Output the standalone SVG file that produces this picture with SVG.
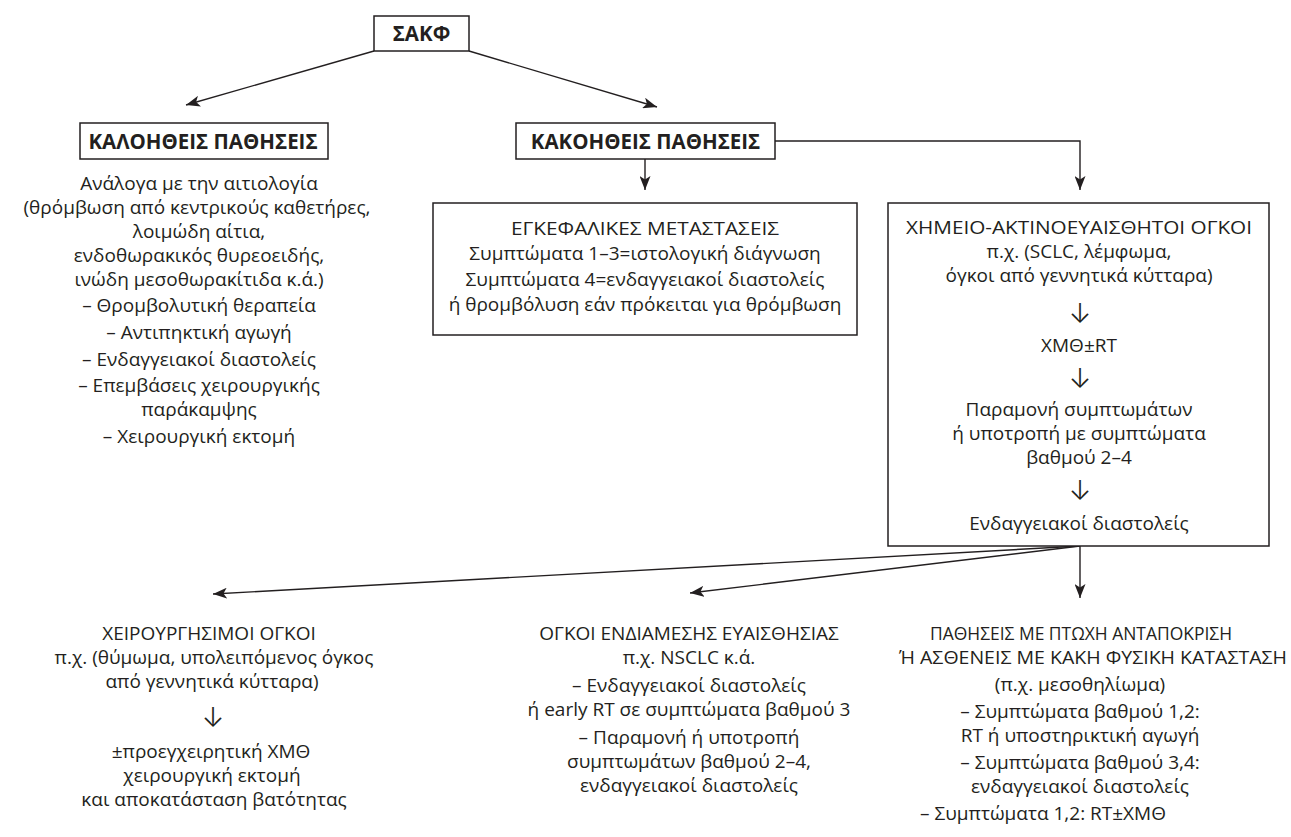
<svg xmlns="http://www.w3.org/2000/svg" width="1291" height="837" viewBox="0 0 1291 837">
<defs>
<style>
.t{font-family:"Open Sans","Noto Sans","DejaVu Sans",sans-serif;font-size:19px;fill:#231f20;text-anchor:middle}
.b{font-family:"Open Sans","Noto Sans","DejaVu Sans",sans-serif;font-size:20.5px;font-weight:bold;fill:#231f20;text-anchor:middle}
.ar{font-family:"Inter","DejaVu Sans",sans-serif;font-size:27px;font-weight:300;fill:#231f20;text-anchor:middle}
.box{fill:#ffffff;stroke:#231f20;stroke-width:1.5}
.c{fill:none;stroke:#231f20;stroke-width:1.4}
</style>
<marker id="ah" markerUnits="userSpaceOnUse" markerWidth="15" markerHeight="11" refX="14" refY="5.5" orient="auto">
<path d="M0,0 L14,5.5 L0,11 L3.5,5.5 Z" fill="#231f20"/>
</marker>
</defs>
<rect width="1291" height="837" fill="#ffffff"/>

<g id="connectors">
<line class="c" x1="374" y1="51" x2="186" y2="105" marker-end="url(#ah)"/>
<line class="c" x1="469" y1="51" x2="657" y2="107" marker-end="url(#ah)"/>
<line class="c" x1="645" y1="159" x2="645" y2="190" marker-end="url(#ah)"/>
<polyline class="c" points="775,141 1080,141 1080,190" marker-end="url(#ah)"/>
<line class="c" x1="1080" y1="546" x2="1080" y2="598" marker-end="url(#ah)"/>
<line class="c" x1="1080" y1="546" x2="213" y2="594" marker-end="url(#ah)"/>
<line class="c" x1="1080" y1="546" x2="690" y2="593" marker-end="url(#ah)"/>
</g>

<g id="sakf">
<rect class="box" x="374" y="16" width="95" height="35"/>
<text class="b" x="421.5" y="40.5">ΣΑΚΦ</text>
</g>

<g id="kaloitheis">
<rect class="box" x="80" y="123" width="248" height="36"/>
<text class="b" x="203" y="148.5">ΚΑΛΟΗΘΕΙΣ ΠΑΘΗΣΕΙΣ</text>
</g>

<g id="kaloitheis-text">
<text class="t" x="199" y="190">Ανάλογα με την αιτιολογία</text>
<text class="t" x="197" y="214">(θρόμβωση από κεντρικούς καθετήρες,</text>
<text class="t" x="199" y="238">λοιμώδη αίτια,</text>
<text class="t" x="199" y="262">ενδοθωρακικός θυρεοειδής,</text>
<text class="t" x="199" y="286">ινώδη μεσοθωρακίτιδα κ.ά.)</text>
<text class="t" x="199" y="312">– Θρομβολυτική θεραπεία</text>
<text class="t" x="199" y="339">– Αντιπηκτική αγωγή</text>
<text class="t" x="199" y="366">– Ενδαγγειακοί διαστολείς</text>
<text class="t" x="199" y="392">– Επεμβάσεις χειρουργικής</text>
<text class="t" x="199" y="416">παράκαμψης</text>
<text class="t" x="199" y="443">– Χειρουργική εκτομή</text>
</g>

<g id="kakoitheis">
<rect class="box" x="516" y="123" width="259" height="36"/>
<text class="b" x="645.5" y="148.5">ΚΑΚΟΗΘΕΙΣ ΠΑΘΗΣΕΙΣ</text>
</g>

<g id="egkefalikes">
<rect class="box" x="433" y="203" width="424" height="132"/>
<text class="t" x="645" y="235" textLength="268" lengthAdjust="spacingAndGlyphs">ΕΓΚΕΦΑΛΙΚΕΣ ΜΕΤΑΣΤΑΣΕΙΣ</text>
<text class="t" x="645" y="260">Συμπτώματα 1–3=ιστολογική διάγνωση</text>
<text class="t" x="645" y="286">Συμπτώματα 4=ενδαγγειακοί διαστολείς</text>
<text class="t" x="645" y="311">ή θρομβόλυση εάν πρόκειται για θρόμβωση</text>
</g>

<g id="xhmeio">
<rect class="box" x="888" y="203" width="381" height="343"/>
<text class="t" x="1079" y="234" textLength="346" lengthAdjust="spacingAndGlyphs">ΧΗΜΕΙΟ-ΑΚΤΙΝΟΕΥΑΙΣΘΗΤΟΙ ΟΓΚΟΙ</text>
<text class="t" x="1079" y="258">π.χ. (SCLC, λέμφωμα,</text>
<text class="t" x="1079" y="282">όγκοι από γεννητικά κύτταρα)</text>
<text class="ar" x="1080" y="323">↓</text>
<text class="t" x="1079" y="352">ΧΜΘ±RT</text>
<text class="ar" x="1080" y="388">↓</text>
<text class="t" x="1079" y="416">Παραμονή συμπτωμάτων</text>
<text class="t" x="1079" y="440">ή υποτροπή με συμπτώματα</text>
<text class="t" x="1079" y="464">βαθμού 2–4</text>
<text class="ar" x="1080" y="500">↓</text>
<text class="t" x="1079" y="530">Ενδαγγειακοί διαστολείς</text>
</g>

<g id="xeirourgisimoi">
<text class="t" x="209" y="640">ΧΕΙΡΟΥΡΓΗΣΙΜΟΙ ΟΓΚΟΙ</text>
<text class="t" x="214" y="664">π.χ. (θύμωμα, υπολειπόμενος όγκος</text>
<text class="t" x="212" y="688">από γεννητικά κύτταρα)</text>
<text class="ar" x="213" y="727">↓</text>
<text class="t" x="211" y="758">±προεγχειρητική ΧΜΘ</text>
<text class="t" x="212" y="782">χειρουργική εκτομή</text>
<text class="t" x="214" y="806">και αποκατάσταση βατότητας</text>
</g>

<g id="endiamesis">
<text class="t" x="689" y="640">ΟΓΚΟΙ ΕΝΔΙΑΜΕΣΗΣ ΕΥΑΙΣΘΗΣΙΑΣ</text>
<text class="t" x="689" y="664">π.χ. NSCLC κ.ά.</text>
<text class="t" x="689" y="692">– Ενδαγγειακοί διαστολείς</text>
<text class="t" x="689" y="716">ή early RT σε συμπτώματα βαθμού 3</text>
<text class="t" x="689" y="744">– Παραμονή ή υποτροπή</text>
<text class="t" x="689" y="768">συμπτωμάτων βαθμού 2–4,</text>
<text class="t" x="689" y="792">ενδαγγειακοί διαστολείς</text>
</g>

<g id="ptoxi">
<text class="t" x="1081" y="640" textLength="302" lengthAdjust="spacingAndGlyphs">ΠΑΘΗΣΕΙΣ ΜΕ ΠΤΩΧΗ ΑΝΤΑΠΟΚΡΙΣΗ</text>
<text class="t" x="1093" y="664" textLength="388" lengthAdjust="spacingAndGlyphs">Ή ΑΣΘΕΝΕΙΣ ΜΕ ΚΑΚΗ ΦΥΣΙΚΗ ΚΑΤΑΣΤΑΣΗ</text>
<text class="t" x="1080" y="691">(π.χ. μεσοθηλίωμα)</text>
<text class="t" x="1080" y="718">– Συμπτώματα βαθμού 1,2:</text>
<text class="t" x="1080" y="742">RT ή υποστηρικτική αγωγή</text>
<text class="t" x="1080" y="769">– Συμπτώματα βαθμού 3,4:</text>
<text class="t" x="1080" y="793">ενδαγγειακοί διαστολείς</text>
<text class="t" x="1043" y="820">– Συμπτώματα 1,2: RT±ΧΜΘ</text>
</g>
</svg>
